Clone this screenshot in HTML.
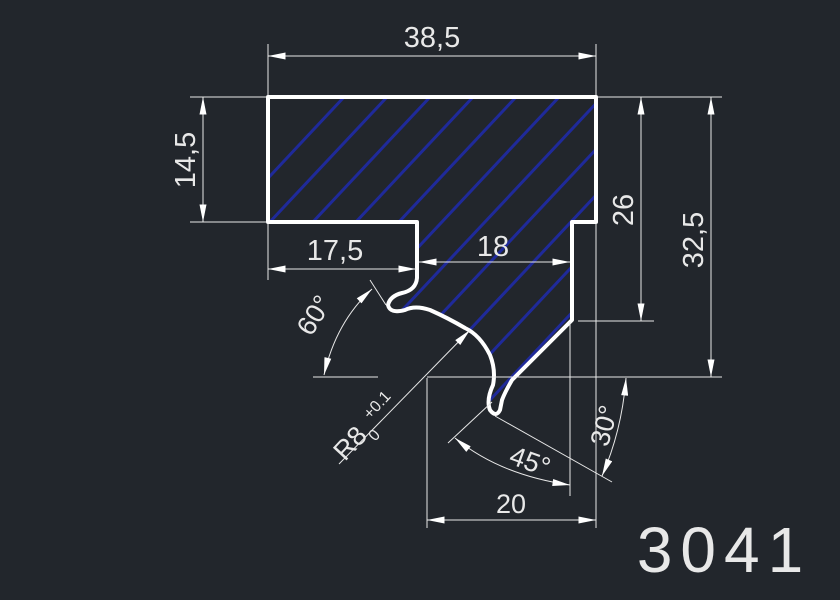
<!DOCTYPE html>
<html><head><meta charset="utf-8"><style>
html,body{margin:0;padding:0;background:#22262c;}
svg{display:block}
text{font-family:"Liberation Sans",sans-serif;fill:#e8e8e8;}
</style></head><body>
<svg width="840" height="600" viewBox="0 0 840 600" xmlns="http://www.w3.org/2000/svg">
<defs>
<clipPath id="cp"><path id="prof" d="M268,97 L596,97 L596,222 L572,222 L572,320 L512,380 Q505,392 502,400 L500,410 Q496,418 490,410 Q486,400 493,385 Q496,370 490,355 Q480,335 465,328 Q448,318 430,310 Q415,305 405,310 Q390,314 388,305 Q390,296 402,293 Q416,290 417,278 L417,222 L268,222 Z"/></clipPath>
<marker id="a" viewBox="0 0 10 4" refX="10" refY="2" markerWidth="18" markerHeight="7" markerUnits="userSpaceOnUse" orient="auto-start-reverse"><path d="M0,0 L10,2 L0,4 Z" fill="#fff"/></marker>
</defs>
<g clip-path="url(#cp)" stroke="#1f2a9a" stroke-width="3">
<line x1="60" y1="400" x2="360" y2="80"/><line x1="103" y1="400" x2="403" y2="80"/><line x1="146" y1="400" x2="446" y2="80"/><line x1="189" y1="400" x2="489" y2="80"/><line x1="232" y1="400" x2="532" y2="80"/><line x1="275" y1="400" x2="575" y2="80"/><line x1="318" y1="400" x2="618" y2="80"/><line x1="361" y1="400" x2="661" y2="80"/><line x1="404" y1="400" x2="704" y2="80"/><line x1="447" y1="400" x2="747" y2="80"/><line x1="490" y1="400" x2="790" y2="80"/><line x1="533" y1="400" x2="833" y2="80"/><line x1="576" y1="400" x2="876" y2="80"/>
</g>
<use href="#prof" fill="none" stroke="#fff" stroke-width="4" stroke-linejoin="round"/>
<g stroke="#e8e8e8" stroke-width="1" fill="none">
<line x1="268" y1="44" x2="268" y2="95"/><line x1="596" y1="44" x2="596" y2="95"/>
<line x1="268" y1="56" x2="596" y2="56" marker-start="url(#a)" marker-end="url(#a)"/>
<line x1="190" y1="97" x2="266" y2="97"/><line x1="190" y1="222" x2="266" y2="222"/>
<line x1="203" y1="97" x2="203" y2="222" marker-start="url(#a)" marker-end="url(#a)"/>
<line x1="598" y1="97" x2="722" y2="97"/>
<line x1="578" y1="321" x2="654" y2="321"/>
<line x1="641" y1="97" x2="641" y2="321" marker-start="url(#a)" marker-end="url(#a)"/>
<line x1="711" y1="97" x2="711" y2="377" marker-start="url(#a)" marker-end="url(#a)"/>
<line x1="313" y1="377" x2="378" y2="377"/><line x1="427" y1="377" x2="722" y2="377"/>
<line x1="268" y1="224" x2="268" y2="280"/>
<line x1="268" y1="269" x2="416" y2="269" marker-start="url(#a)" marker-end="url(#a)"/>
<line x1="419" y1="262" x2="570" y2="262" marker-start="url(#a)" marker-end="url(#a)"/>
<line x1="570" y1="322" x2="570" y2="496"/>
<line x1="596" y1="224" x2="596" y2="528"/>
<line x1="427" y1="378" x2="427" y2="528"/>
<line x1="427" y1="520" x2="596" y2="520" marker-start="url(#a)" marker-end="url(#a)"/>
<line x1="370" y1="280" x2="386" y2="305"/>
<path d="M372,289 Q336,322 324,375" marker-start="url(#a)" marker-end="url(#a)"/>
<line x1="339" y1="464" x2="470" y2="330" marker-end="url(#a)"/>
<line x1="448" y1="443" x2="492" y2="402"/>
<line x1="495" y1="416" x2="612" y2="482"/>
<path d="M455,438 Q500,475 570,485" marker-start="url(#a)" marker-end="url(#a)"/>
<path d="M626,378 Q622,430 602,476" marker-start="url(#a)" marker-end="url(#a)"/>
</g>
<text x="432" y="47" font-size="29" text-anchor="middle">38,5</text>
<text transform="translate(195,160) rotate(-90)" font-size="29" text-anchor="middle">14,5</text>
<text transform="translate(633,210) rotate(-90)" font-size="29" text-anchor="middle">26</text>
<text transform="translate(703,240) rotate(-90)" font-size="29" text-anchor="middle">32,5</text>
<text x="335" y="260" font-size="29" text-anchor="middle">17,5</text>
<text x="493" y="256" font-size="29" text-anchor="middle">18</text>
<text x="511" y="513" font-size="27" text-anchor="middle">20</text>
<text transform="translate(322,320) rotate(-58)" font-size="27" text-anchor="middle">60°</text>
<text transform="translate(345,462) rotate(-47)" font-size="27">R8</text>
<text transform="translate(370,420) rotate(-47)" font-size="16">+0.1</text>
<text transform="translate(375,442) rotate(-47)" font-size="16">0</text>
<text transform="translate(527,470) rotate(20)" font-size="27" text-anchor="middle">45°</text>
<text transform="translate(613,428) rotate(-75)" font-size="27" text-anchor="middle">30°</text>
<text x="724" y="572" font-size="64" text-anchor="middle" letter-spacing="8">3041</text>
</svg>
</body></html>
